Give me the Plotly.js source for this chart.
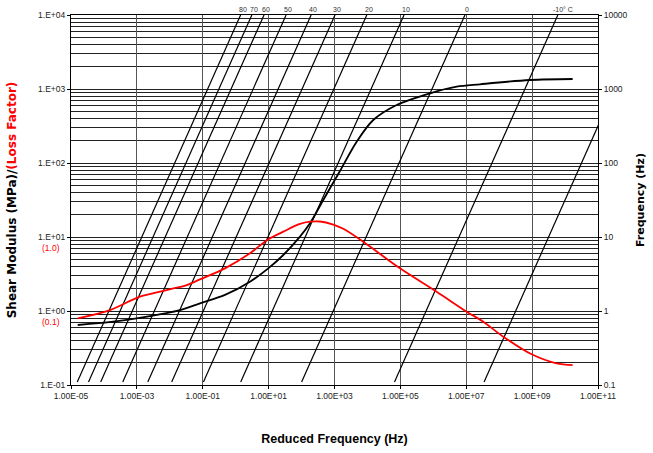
<!DOCTYPE html>
<html>
<head>
<meta charset="utf-8">
<script src="https://cdn.plot.ly/plotly-3.0.1.min.js"></script>
<style>html,body{margin:0;padding:0;background:#fff;}#chart{width:653px;height:453px;}</style>
</head>
<body>
<div id="chart"></div>
<script>
// Shear modulus master curve (MPa) vs reduced frequency (Hz)
const reducedFreqG = [1.6e-5, 1.92e-4, 2.5e-3, 0.0204, 0.0824, 0.473, 2.72, 9.77, 27.9, 89.5, 180, 456, 729, 1466, 4710, 15030, 77270, 7.93e5, 5.12e6, 2.61e7, 8.59e8, 1.70e10];
const shearModulus = [0.647, 0.717, 0.855, 1.03, 1.27, 1.65, 2.49, 3.77, 5.71, 10.1, 15.3, 31.6, 45.5, 78, 194, 381, 608, 875, 1074, 1158, 1324, 1365];
// Loss factor master curve vs reduced frequency (Hz)
const reducedFreqLoss = [1.6e-5, 1.53e-4, 1.24e-3, 8.04e-3, 0.0325, 0.0824, 0.473, 2.72, 9.77, 27.9, 89.5, 180, 362, 918, 1849, 7480, 97300, 1.26e6, 1.03e7, 3.29e7, 1.33e8, 9.68e8, 5.56e9, 1.70e10];
const lossFactor = [0.0796, 0.103, 0.156, 0.192, 0.224, 0.268, 0.377, 0.603, 0.931, 1.18, 1.50, 1.61, 1.62, 1.47, 1.29, 0.863, 0.377, 0.182, 0.098, 0.0716, 0.045, 0.026, 0.0196, 0.0186];
// Temperature isotherms: shift factor aT for each temperature (°C)
const tempLabels = ["80", "70", "60", "50", "40", "30", "20", "10", "0", "-10° C", ""];
const shiftFactors = [1.41e-4, 3.09e-4, 7.24e-4, 3.39e-3, 1.95e-2, 0.1035, 0.955, 12.9, 912, 6.03e5, 3.16e8];
const lineFreq = [0.11, 10000];
// Tick labels
const xTickVals = [1e-5, 1e-3, 1e-1, 1e1, 1e3, 1e5, 1e7, 1e9, 1e11];
const xTickText = ["1.00E-05", "1.00E-03", "1.00E-01", "1.00E+01", "1.00E+03", "1.00E+05", "1.00E+07", "1.00E+09", "1.00E+11"];
const yTickVals = [0.1, 1, 10, 100, 1000, 10000];
const yTickText = ["1.E-01", "1.E+00", "1.E+01", "1.E+02", "1.E+03", "1.E+04"];
const y2TickText = ["0.1", "1", "10", "100", "1000", "10000"];
const lossLabels = ["(0.1)", "(1.0)"];
const lossLabelAt = [1, 10];

const minorVals = [];
[0.1, 1, 10, 100, 1000].forEach(d => { for (let k = 2; k <= 9; k++) minorVals.push(d * k); });

const traces = [];
shiftFactors.forEach((a, i) => {
  traces.push({
    x: lineFreq.map(f => f * a), y: lineFreq, yaxis: 'y2', xaxis: 'x',
    mode: 'lines', line: {color: '#000', width: 1.2}, hoverinfo: 'skip', showlegend: false
  });
});
traces.push({
  x: reducedFreqG, y: shearModulus, xaxis: 'x', yaxis: 'y', mode: 'lines',
  line: {color: '#000', width: 1.8, shape: 'spline', smoothing: 0.9}, showlegend: false, name: 'Shear Modulus'
});
traces.push({
  x: reducedFreqLoss, y: lossFactor, xaxis: 'x', yaxis: 'y3', mode: 'lines',
  line: {color: '#ff0000', width: 1.8, shape: 'spline', smoothing: 0.9}, showlegend: false, name: 'Loss Factor'
});

const annotations = [];
shiftFactors.forEach((a, i) => {
  if (!tempLabels[i]) return;
  annotations.push({
    xref: 'x', yref: 'paper', x: Math.log10(lineFreq[1] * a), y: 1.016,
    text: tempLabels[i], showarrow: false, xanchor: 'center', yanchor: 'middle',
    xshift: i === 9 ? 5 : 2,
    font: {family: 'Liberation Sans, Arial, sans-serif', size: 7, color: '#333'}
  });
});
lossLabels.forEach((t, i) => {
  annotations.push({
    xref: 'paper', yref: 'y', x: -0.0385, y: Math.log10(lossLabelAt[i]), yshift: -11,
    text: t, showarrow: false, xanchor: 'center', yanchor: 'middle',
    font: {family: 'Liberation Sans, Arial, sans-serif', size: 8.5, color: '#ff0000'}
  });
});

const tickFont = {family: 'Liberation Sans, Arial, sans-serif', size: 8.5, color: '#222'};
const layout = {
  width: 653, height: 453,
  margin: {l: 71, r: 55, t: 15, b: 68},
  paper_bgcolor: '#fff', plot_bgcolor: '#fff',
  showlegend: false,
  xaxis: {
    type: 'log', range: [-5, 11], tickmode: 'array', tickvals: xTickVals, ticktext: xTickText,
    showgrid: true, gridcolor: '#555', gridwidth: 1, zeroline: false,
    showline: true, linecolor: '#000', linewidth: 1, mirror: true,
    ticks: 'outside', ticklen: 3, tickcolor: '#000', tickfont: tickFont,
    title: {text: 'Reduced Frequency (Hz)', font: {family: 'Liberation Sans, Arial, sans-serif', size: 12.5, color: '#000', weight: 'bold'}, standoff: 34}
  },
  yaxis: {
    type: 'log', range: [-1, 4], tickmode: 'array', tickvals: yTickVals, ticktext: yTickText,
    showgrid: true, gridcolor: '#222', gridwidth: 1, zeroline: false,
    minor: {tickmode: 'array', tickvals: minorVals, showgrid: true, gridcolor: '#222', gridwidth: 1, ticks: ''},
    showline: true, linecolor: '#000', linewidth: 1,
    ticks: 'outside', ticklen: 3, tickcolor: '#000', tickfont: tickFont,
    title: {text: 'Shear Modulus (MPa)/<span style="color:#ff0000">(Loss Factor)</span>', font: {family: 'DejaVu Sans, Verdana, sans-serif', size: 12, color: '#000', weight: 'bold'}, standoff: 18}
  },
  yaxis2: {
    type: 'log', range: [-1, 4], overlaying: 'y', side: 'right', anchor: 'x',
    tickmode: 'array', tickvals: yTickVals, ticktext: y2TickText,
    showgrid: false, zeroline: false, showline: true, linecolor: '#000', linewidth: 1,
    ticks: 'outside', ticklen: 3, tickcolor: '#000', tickfont: tickFont,
    title: {text: 'Frequency (Hz)', font: {family: 'DejaVu Sans, Verdana, sans-serif', size: 11, color: '#000', weight: 'bold'}, standoff: 9}
  },
  yaxis3: {
    type: 'log', range: [-2, 3], overlaying: 'y', anchor: 'x', visible: false
  },
  annotations: annotations
};

Plotly.newPlot('chart', traces, layout, {displayModeBar: false, staticPlot: true});
</script>
</body>
</html>
